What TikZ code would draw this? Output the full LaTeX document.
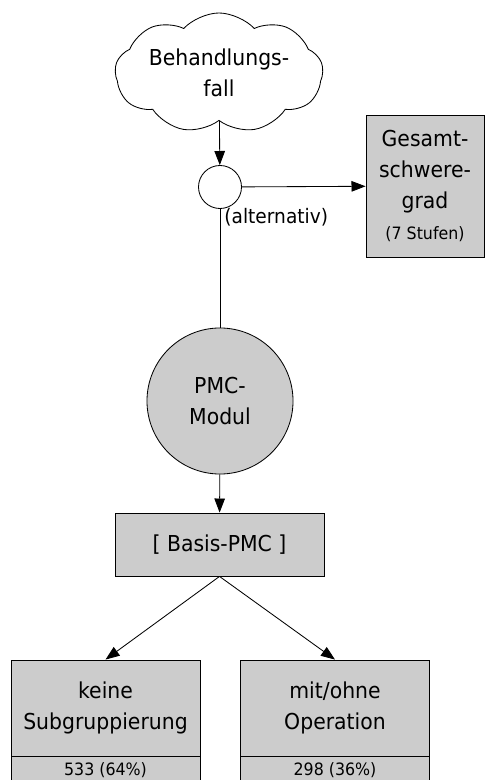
\documentclass[tikz,border=0pt]{standalone}
\usepackage{fontspec}
\setmainfont{DejaVu Sans}[FakeStretch=0.93]
\usetikzlibrary{shapes.symbols,arrows.meta}
\definecolor{boxgray}{HTML}{CCCCCC}
\newcommand{\mainsize}{\fontsize{15.6}{22}\selectfont}
\newcommand{\smallsize}{\fontsize{12.1}{14}\selectfont}
\tikzset{
	box/.style={draw, fill=boxgray, align=center, inner sep=0pt, font=\mainsize},
	countbox/.style={box, font=\smallsize, minimum width=4.725cm, minimum height=0.65cm},
	arr/.style={-{Triangle[length=10pt,width=7.5pt]}},
}

\begin{document}
\begin{tikzpicture}[x=0.025cm, y=-0.025cm, line width=0.6pt]
	\useasboundingbox (0,0) rectangle (485,780);
	\node[cloud, draw, cloud puffs=9, cloud puff arc=95, cloud ignores aspect, minimum width=5.2cm, minimum height=3.0cm, inner sep=0pt, align=center, font=\mainsize] (fall) at (219,73) {Behandlungs-\\fall};
	\node[draw, circle, minimum size=1.075cm, inner sep=0pt] (alt) at (220,187) {};
	\node[box, minimum width=2.95cm, minimum height=3.55cm] (gsg) at (425,186) {Gesamt-\\schwere-\\grad\\{\smallsize (7 Stufen)}};
	\node[anchor=north west, inner sep=0pt, font=\fontsize{14.2}{16}\selectfont] (altlbl) at ([xshift=0.1cm,yshift=0.02cm]alt.south) {(alternativ)};
	\node[box, circle, minimum size=3.65cm] (pmc) at (220,401) {PMC-\\Modul};
	\node[box, minimum width=5.225cm, minimum height=1.575cm] (basis) at (219.5,544.5) {[ Basis-PMC ]};
	\node[box, minimum width=4.725cm, minimum height=2.4cm] (keine) at (105.5,708) {keine\\Subgruppierung};
	\node[box, minimum width=4.725cm, minimum height=2.4cm] (mitohne) at (335,708) {mit/ohne\\Operation};
	\node[countbox, anchor=north] (keinecnt) at (keine.south) {533 (64\%)};
	\node[countbox, anchor=north] (mitohnecnt) at (mitohne.south) {298 (36\%)};
	\draw[arr] (fall) -- (alt);
	\draw[arr] (alt) -- (gsg);
	\draw (alt) -- (pmc);
	\draw[arr] (pmc) -- (basis);
	\draw[arr] (basis.south) -- (keine.north);
	\draw[arr] (basis.south) -- (mitohne.north);
\end{tikzpicture}
\end{document}
